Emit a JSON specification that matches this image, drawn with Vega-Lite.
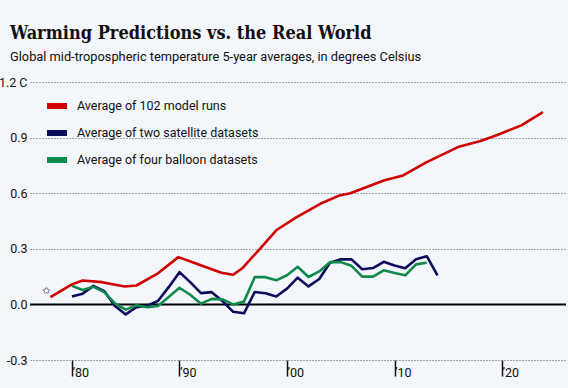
{
  "$schema": "https://vega.github.io/schema/vega-lite/v6.json",
  "width": 536,
  "height": 278,
  "autosize": {"type": "none"},
  "padding": {"left": 30, "top": 82, "right": 2, "bottom": 28},
  "background": "#f3f6fa",
  "title": {
    "text": "Warming Predictions vs. the Real World",
    "subtitle": "Global mid-tropospheric temperature 5-year averages, in degrees Celsius",
    "anchor": "start",
    "frame": "group",
    "dx": -20,
    "offset": 12,
    "font": "DejaVu Serif Condensed",
    "fontSize": 18,
    "fontWeight": "bold",
    "color": "#111",
    "subtitleFont": "Roboto",
    "subtitleFontSize": 12.8,
    "subtitleColor": "#111",
    "subtitlePadding": 8
  },
  "config": {
    "view": {"stroke": null},
    "font": "Roboto"
  },
  "layer": [
    {
      "data": {"values": [{"zero": 0}]},
      "mark": {"type": "rule", "color": "#000", "strokeWidth": 2},
      "encoding": {"y": {"field": "zero", "type": "quantitative"}}
    },
    {
      "data": {"values": [
        {"series": "Average of 102 model runs", "year": 1978.0, "value": 0.039},
        {"series": "Average of 102 model runs", "year": 1980.0, "value": 0.108},
        {"series": "Average of 102 model runs", "year": 1981.0, "value": 0.129},
        {"series": "Average of 102 model runs", "year": 1982.8, "value": 0.120},
        {"series": "Average of 102 model runs", "year": 1984.9, "value": 0.097},
        {"series": "Average of 102 model runs", "year": 1986.0, "value": 0.102},
        {"series": "Average of 102 model runs", "year": 1988.0, "value": 0.168},
        {"series": "Average of 102 model runs", "year": 1989.9, "value": 0.255},
        {"series": "Average of 102 model runs", "year": 1991.6, "value": 0.219},
        {"series": "Average of 102 model runs", "year": 1993.9, "value": 0.171},
        {"series": "Average of 102 model runs", "year": 1995.0, "value": 0.160},
        {"series": "Average of 102 model runs", "year": 1995.9, "value": 0.198},
        {"series": "Average of 102 model runs", "year": 1997.5, "value": 0.301},
        {"series": "Average of 102 model runs", "year": 1999.0, "value": 0.400},
        {"series": "Average of 102 model runs", "year": 2000.9, "value": 0.471},
        {"series": "Average of 102 model runs", "year": 2003.1, "value": 0.543},
        {"series": "Average of 102 model runs", "year": 2004.9, "value": 0.588},
        {"series": "Average of 102 model runs", "year": 2005.9, "value": 0.600},
        {"series": "Average of 102 model runs", "year": 2009.0, "value": 0.669},
        {"series": "Average of 102 model runs", "year": 2010.8, "value": 0.696},
        {"series": "Average of 102 model runs", "year": 2013.0, "value": 0.768},
        {"series": "Average of 102 model runs", "year": 2015.9, "value": 0.849},
        {"series": "Average of 102 model runs", "year": 2018.0, "value": 0.882},
        {"series": "Average of 102 model runs", "year": 2019.5, "value": 0.913},
        {"series": "Average of 102 model runs", "year": 2021.8, "value": 0.966},
        {"series": "Average of 102 model runs", "year": 2023.8, "value": 1.037},

        {"series": "Average of two satellite datasets", "year": 1980, "value": 0.043},
        {"series": "Average of two satellite datasets", "year": 1981, "value": 0.058},
        {"series": "Average of two satellite datasets", "year": 1982, "value": 0.100},
        {"series": "Average of two satellite datasets", "year": 1983, "value": 0.072},
        {"series": "Average of two satellite datasets", "year": 1984, "value": -0.008},
        {"series": "Average of two satellite datasets", "year": 1985, "value": -0.054},
        {"series": "Average of two satellite datasets", "year": 1986, "value": -0.015},
        {"series": "Average of two satellite datasets", "year": 1987, "value": -0.007},
        {"series": "Average of two satellite datasets", "year": 1988, "value": 0.018},
        {"series": "Average of two satellite datasets", "year": 1989, "value": 0.093},
        {"series": "Average of two satellite datasets", "year": 1990, "value": 0.174},
        {"series": "Average of two satellite datasets", "year": 1991, "value": 0.120},
        {"series": "Average of two satellite datasets", "year": 1992, "value": 0.061},
        {"series": "Average of two satellite datasets", "year": 1993, "value": 0.066},
        {"series": "Average of two satellite datasets", "year": 1994, "value": 0.018},
        {"series": "Average of two satellite datasets", "year": 1995, "value": -0.040},
        {"series": "Average of two satellite datasets", "year": 1996, "value": -0.048},
        {"series": "Average of two satellite datasets", "year": 1997, "value": 0.067},
        {"series": "Average of two satellite datasets", "year": 1998, "value": 0.060},
        {"series": "Average of two satellite datasets", "year": 1999, "value": 0.043},
        {"series": "Average of two satellite datasets", "year": 2000, "value": 0.085},
        {"series": "Average of two satellite datasets", "year": 2001, "value": 0.144},
        {"series": "Average of two satellite datasets", "year": 2002, "value": 0.097},
        {"series": "Average of two satellite datasets", "year": 2003, "value": 0.137},
        {"series": "Average of two satellite datasets", "year": 2004, "value": 0.225},
        {"series": "Average of two satellite datasets", "year": 2005, "value": 0.243},
        {"series": "Average of two satellite datasets", "year": 2006, "value": 0.243},
        {"series": "Average of two satellite datasets", "year": 2007, "value": 0.190},
        {"series": "Average of two satellite datasets", "year": 2008, "value": 0.196},
        {"series": "Average of two satellite datasets", "year": 2009, "value": 0.230},
        {"series": "Average of two satellite datasets", "year": 2010, "value": 0.210},
        {"series": "Average of two satellite datasets", "year": 2011, "value": 0.195},
        {"series": "Average of two satellite datasets", "year": 2012, "value": 0.243},
        {"series": "Average of two satellite datasets", "year": 2013, "value": 0.260},
        {"series": "Average of two satellite datasets", "year": 2014, "value": 0.157},

        {"series": "Average of four balloon datasets", "year": 1980, "value": 0.100},
        {"series": "Average of four balloon datasets", "year": 1981, "value": 0.078},
        {"series": "Average of four balloon datasets", "year": 1982, "value": 0.095},
        {"series": "Average of four balloon datasets", "year": 1983, "value": 0.066},
        {"series": "Average of four balloon datasets", "year": 1984, "value": 0.006},
        {"series": "Average of four balloon datasets", "year": 1985, "value": -0.028},
        {"series": "Average of four balloon datasets", "year": 1986, "value": -0.005},
        {"series": "Average of four balloon datasets", "year": 1987, "value": -0.015},
        {"series": "Average of four balloon datasets", "year": 1988, "value": -0.008},
        {"series": "Average of four balloon datasets", "year": 1989, "value": 0.040},
        {"series": "Average of four balloon datasets", "year": 1990, "value": 0.090},
        {"series": "Average of four balloon datasets", "year": 1991, "value": 0.052},
        {"series": "Average of four balloon datasets", "year": 1992, "value": 0.004},
        {"series": "Average of four balloon datasets", "year": 1993, "value": 0.030},
        {"series": "Average of four balloon datasets", "year": 1994, "value": 0.027},
        {"series": "Average of four balloon datasets", "year": 1995, "value": 0.000},
        {"series": "Average of four balloon datasets", "year": 1996, "value": 0.015},
        {"series": "Average of four balloon datasets", "year": 1997, "value": 0.147},
        {"series": "Average of four balloon datasets", "year": 1998, "value": 0.147},
        {"series": "Average of four balloon datasets", "year": 1999, "value": 0.130},
        {"series": "Average of four balloon datasets", "year": 2000, "value": 0.157},
        {"series": "Average of four balloon datasets", "year": 2001, "value": 0.203},
        {"series": "Average of four balloon datasets", "year": 2002, "value": 0.148},
        {"series": "Average of four balloon datasets", "year": 2003, "value": 0.178},
        {"series": "Average of four balloon datasets", "year": 2004, "value": 0.228},
        {"series": "Average of four balloon datasets", "year": 2005, "value": 0.228},
        {"series": "Average of four balloon datasets", "year": 2006, "value": 0.208},
        {"series": "Average of four balloon datasets", "year": 2007, "value": 0.150},
        {"series": "Average of four balloon datasets", "year": 2008, "value": 0.150},
        {"series": "Average of four balloon datasets", "year": 2009, "value": 0.184},
        {"series": "Average of four balloon datasets", "year": 2010, "value": 0.170},
        {"series": "Average of four balloon datasets", "year": 2011, "value": 0.157},
        {"series": "Average of four balloon datasets", "year": 2012, "value": 0.216},
        {"series": "Average of four balloon datasets", "year": 2013, "value": 0.225}
      ]},
      "mark": {"type": "line", "strokeWidth": 2.6, "strokeJoin": "round", "strokeCap": "butt"},
      "encoding": {
        "x": {
          "field": "year", "type": "quantitative",
          "scale": {"domain": [1976.1, 2025.95], "nice": false, "zero": false},
          "axis": {
            "title": null,
            "values": [1980, 1990, 2000, 2010, 2020],
            "labelExpr": "datum.value == 1980 ? '\u201980' : datum.value == 1990 ? '\u201990' : datum.value == 2000 ? '\u201900' : datum.value == 2010 ? '\u201910' : '\u201920'",
            "domain": false,
            "grid": false,
            "ticks": true,
            "tickSize": 16,
            "tickColor": "#111",
            "tickWidth": 1.5,
            "labelAlign": "left",
            "labelBaseline": "alphabetic",
            "labelPadding": 0,
            "labelDx": 3,
            "labelFont": "Roboto",
            "labelFontSize": 12.5,
            "labelColor": "#111"
          }
        },
        "y": {
          "field": "value", "type": "quantitative",
          "scale": {"domain": [-0.3, 1.2], "nice": false, "zero": false},
          "axis": {
            "title": null,
            "values": [-0.3, 0, 0.3, 0.6, 0.9, 1.2],
            "labelExpr": "datum.value == 1.2 ? '1.2 C' : (datum.value < 0 ? '-0.3' : format(datum.value, '.1f'))",
            "domain": false,
            "ticks": false,
            "grid": true,
            "gridDash": [1, 2],
            "gridColor": "#555",
            "gridWidth": 1.2,
            "labelPadding": 3,
            "labelFont": "Roboto",
            "labelFontSize": 12.5,
            "labelColor": "#111"
          }
        },
        "color": {
          "field": "series", "type": "nominal",
          "scale": {
            "domain": ["Average of 102 model runs", "Average of two satellite datasets", "Average of four balloon datasets"],
            "range": ["#d00000", "#0c0c5c", "#0f8a4c"]
          },
          "legend": {
            "orient": "none",
            "legendX": 14,
            "legendY": 11,
            "title": null,
            "symbolType": "stroke",
            "symbolStrokeWidth": 6,
            "symbolSize": 400,
            "labelFont": "Roboto",
            "labelFontSize": 12.5,
            "labelColor": "#111",
            "labelOffset": 7,
            "labelLimit": 0,
            "rowPadding": 2
          }
        }
      }
    },
    {
      "data": {"values": [{"year": 1977.6, "value": 0.075, "mark": "\u2729"}]},
      "mark": {"type": "text", "fontSize": 10, "font": "DejaVu Sans", "color": "#222"},
      "encoding": {
        "x": {"field": "year", "type": "quantitative"},
        "y": {"field": "value", "type": "quantitative"},
        "text": {"field": "mark"}
      }
    }
  ]
}
